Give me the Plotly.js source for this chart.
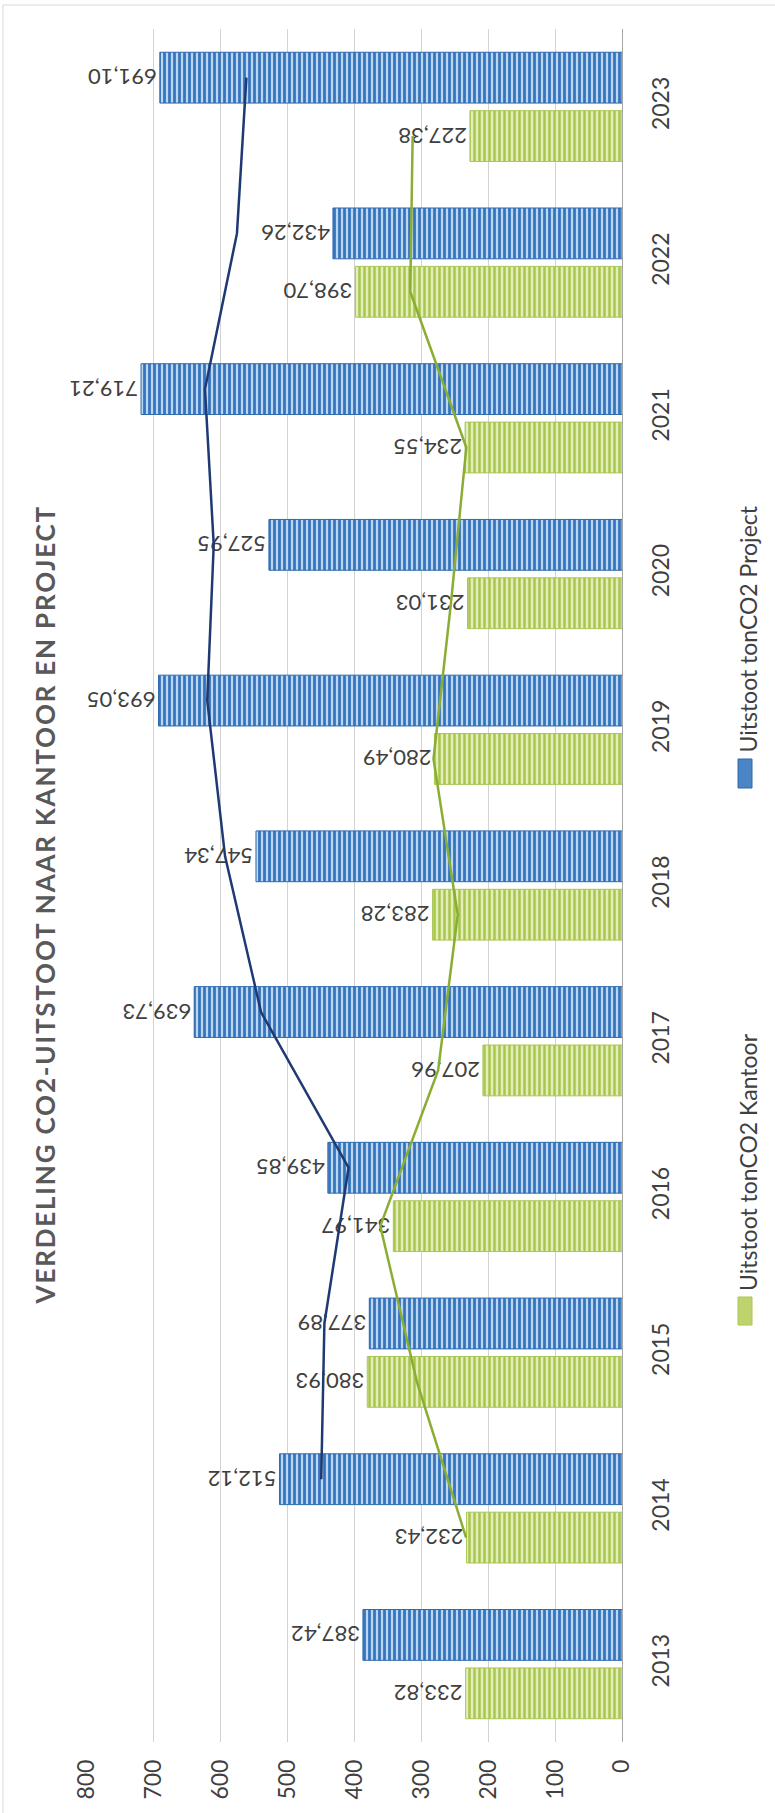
<!DOCTYPE html>
<html>
<head>
<meta charset="utf-8">
<script src="https://cdn.plot.ly/plotly-3.0.1.min.js"></script>
<style>
html,body{margin:0;padding:0;background:#fff;}
#chart{width:775px;height:1813px;}
.annotation[data-index="0"] text{letter-spacing:1.8px;}
</style>
</head>
<body>
<div id="chart"></div>
<script>
// ---- data ----
const years = [2013, 2014, 2015, 2016, 2017, 2018, 2019, 2020, 2021, 2022, 2023];
const kantoor = [233.82, 232.43, 380.93, 341.97, 207.96, 283.28, 280.49, 231.03, 234.55, 398.70, 227.38];
const project = [387.42, 512.12, 377.89, 439.85, 639.73, 547.34, 693.05, 527.95, 719.21, 432.26, 691.10];
// trend lines (2-period moving average as drawn in the picture)
const kantoorTrend = [null, 233.13, 306.68, 361.45, 274.97, 245.62, 281.89, 255.76, 232.79, 316.63, 313.04];
const projectTrend = [null, 449.77, 445.01, 408.87, 539.79, 593.54, 620.20, 610.50, 623.58, 575.74, 561.68];
const valueTicks = [0, 100, 200, 300, 400, 500, 600, 700, 800];
const seriesNames = ['Uitstoot tonCO2 Kantoor', 'Uitstoot tonCO2 Project'];
const titleText = 'VERDELING CO2-UITSTOOT NAAR KANTOOR EN PROJECT';

// ---- layout geometry ----
const W = 775, H = 1813;
const L = 87, R = W - 622, T = 29, B = H - 1742;
const plotW = W - L - R, plotH = H - T - B;
const xp = px => (px - L) / plotW;
const yp = py => (H - B - py) / plotH;
const bargap = 0.25, bargroupgap = 0.13;
const off = (1 - bargap) / 4;

const green = {bg:'#e4eeb8', fg:'#a8c64e', line:'#a9c655', trend:'#8aae34'};
const blue  = {bg:'#bcd6ef', fg:'#3374bd', line:'#2f69ad', trend:'#1f3a72'};
const textColor = '#404040';
const fontFam = 'Lato, "Open Sans", sans-serif';

const barBase = {
  type:'bar', orientation:'h', y: years,
  texttemplate:'%{x:.2f}', textposition:'outside', textangle:180,
  constraintext:'none', cliponaxis:false,
  textfont:{family:fontFam, size:22, color:textColor},
  hoverinfo:'skip'
};

const traces = [
  Object.assign({}, barBase, {
    name: seriesNames[0], x: kantoor,
    marker:{color:green.bg, line:{color:green.line, width:1},
      pattern:{shape:'|', fgcolor:green.fg, bgcolor:green.bg, size:5, solidity:0.5}}
  }),
  Object.assign({}, barBase, {
    name: seriesNames[1], x: project,
    marker:{color:blue.bg, line:{color:blue.line, width:1},
      pattern:{shape:'|', fgcolor:blue.fg, bgcolor:blue.bg, size:5, solidity:0.55}}
  }),
  {type:'scatter', mode:'lines', x: kantoorTrend, y: years.map(v => v - off),
   line:{color:green.trend, width:2.5}, hoverinfo:'skip', showlegend:false, cliponaxis:false},
  {type:'scatter', mode:'lines', x: projectTrend, y: years.map(v => v + off),
   line:{color:blue.trend, width:2.5}, hoverinfo:'skip', showlegend:false, cliponaxis:false}
];

const annotations = [
  {text:titleText, xref:'paper', yref:'paper', x:xp(45), y:yp(905), textangle:-90,
   showarrow:false, xanchor:'center', yanchor:'middle',
   font:{family:fontFam, size:26, color:'#595959', weight:'bold'}},
  {text:seriesNames[1], xref:'paper', yref:'paper', x:xp(748), y:yp(755), textangle:-90,
   showarrow:false, xanchor:'center', yanchor:'bottom',
   font:{family:fontFam, size:23, color:textColor}},
  {text:seriesNames[0], xref:'paper', yref:'paper', x:xp(748), y:yp(1293), textangle:-90,
   showarrow:false, xanchor:'center', yanchor:'bottom',
   font:{family:fontFam, size:23, color:textColor}}
];

const shapes = [
  {type:'line', xref:'paper', yref:'paper', x0:xp(3), x1:xp(W), y0:yp(5), y1:yp(5), line:{color:'#d9d9d9', width:1}},
  {type:'line', xref:'paper', yref:'paper', x0:xp(3), x1:xp(3), y0:yp(5), y1:yp(H), line:{color:'#d9d9d9', width:1}},
  {type:'rect', xref:'paper', yref:'paper', x0:xp(738), x1:xp(752), y0:yp(759), y1:yp(788),
   fillcolor:'#4a86c6', line:{color:blue.line, width:1}},
  {type:'rect', xref:'paper', yref:'paper', x0:xp(738), x1:xp(752), y0:yp(1297), y1:yp(1325),
   fillcolor:'#bdd46c', line:{color:green.line, width:1}}
];

const layout = {
  width:W, height:H,
  margin:{l:L, r:R, t:T, b:B, pad:0},
  paper_bgcolor:'#ffffff', plot_bgcolor:'#ffffff',
  font:{family:fontFam, size:23, color:textColor},
  separators:', ',
  barmode:'group', bargap:bargap, bargroupgap:bargroupgap,
  showlegend:false,
  xaxis:{range:[800, 0], tickvals:valueTicks, tickangle:-90, showgrid:true,
    gridcolor:'#d3d3d3', gridwidth:1, zeroline:false, showline:false, ticks:'',
    ticklabelstandoff:12, fixedrange:true,
    tickfont:{family:fontFam, size:23, color:textColor}},
  yaxis:{range:[2012.5, 2023.5], side:'right', tickvals:years, ticktext:years.map(String),
    tickangle:-90, showgrid:false, zeroline:false, showline:true,
    linecolor:'#a6a6a6', linewidth:1.2, ticks:'', ticklabelstandoff:18, fixedrange:true,
    tickfont:{family:fontFam, size:23, color:textColor}},
  annotations:annotations,
  shapes:shapes
};

Plotly.newPlot('chart', traces, layout, {staticPlot:true, displayModeBar:false});
</script>
</body>
</html>
